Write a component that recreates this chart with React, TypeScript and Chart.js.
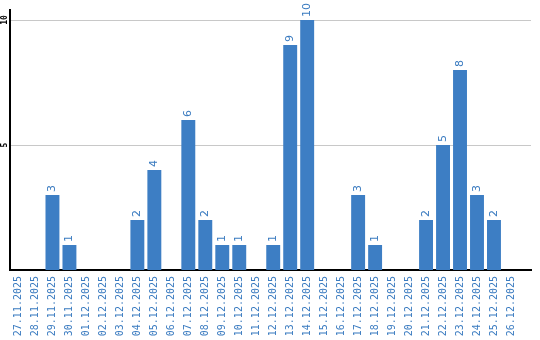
import React, { useEffect, useRef } from "react";
import { Chart, registerables } from "chart.js";

Chart.register(...registerables);

const categories = [
  "27.11.2025", "28.11.2025", "29.11.2025", "30.11.2025", "01.12.2025",
  "02.12.2025", "03.12.2025", "04.12.2025", "05.12.2025", "06.12.2025",
  "07.12.2025", "08.12.2025", "09.12.2025", "10.12.2025", "11.12.2025",
  "12.12.2025", "13.12.2025", "14.12.2025", "15.12.2025", "16.12.2025",
  "17.12.2025", "18.12.2025", "19.12.2025", "20.12.2025", "21.12.2025",
  "22.12.2025", "23.12.2025", "24.12.2025", "25.12.2025", "26.12.2025",
];
const values = [
  0, 0, 3, 1, 0, 0, 0, 2, 4, 0,
  6, 2, 1, 1, 0, 1, 9, 10, 0, 0,
  3, 1, 0, 0, 2, 5, 8, 3, 2, 0,
];
const yTicks = [5, 10];

const BAR_COLOR = "#3d7ec4";
const TEXT_BLUE = "#3a7bc0";

const labelPlugin = {
  id: "customLabels",
  afterDatasetsDraw(chart: any) {
    const ctx = chart.ctx;
    const meta = chart.getDatasetMeta(0);
    ctx.save();
    ctx.fillStyle = TEXT_BLUE;
    ctx.font = "11px 'DejaVu Sans'";
    ctx.textAlign = "left";
    ctx.textBaseline = "middle";
    meta.data.forEach((bar: any, i: number) => {
      const v = values[i];
      if (!v) return;
      ctx.save();
      ctx.translate(bar.x, bar.y - 3);
      ctx.rotate(-Math.PI / 2);
      ctx.fillText(String(v), 0, 0);
      ctx.restore();
    });
    const ys = chart.scales.y;
    ctx.fillStyle = "#000";
    ctx.font = "bold 8px 'DejaVu Sans Mono'";
    ctx.textAlign = "center";
    ctx.textBaseline = "middle";
    ys.ticks.forEach((t: any) => {
      if (!yTicks.includes(t.value)) return;
      const py = ys.getPixelForValue(t.value);
      ctx.save();
      ctx.translate(5, py);
      ctx.rotate(-Math.PI / 2);
      ctx.fillText(String(t.value), 0, 0);
      ctx.restore();
    });
    ctx.restore();
  },
};

export default function App() {
  const ref = useRef<HTMLCanvasElement>(null);
  useEffect(() => {
    document.body.style.margin = "0";
    const chart = new Chart(ref.current!, {
      type: "bar",
      data: {
        labels: categories,
        datasets: [
          {
            data: values,
            backgroundColor: BAR_COLOR,
            barPercentage: 0.82,
            categoryPercentage: 1,
          },
        ],
      },
      options: {
        animation: false,
        responsive: false,
        maintainAspectRatio: false,
        layout: { padding: { top: 10, right: 9, left: 0, bottom: 0 } },
        plugins: { legend: { display: false }, tooltip: { enabled: false } },
        scales: {
          x: {
            grid: { display: false, drawTicks: false },
            border: { color: "#000", width: 2 },
            ticks: {
              color: TEXT_BLUE,
              font: { family: "'DejaVu Sans Mono'", size: 10 },
              minRotation: 90,
              maxRotation: 90,
              autoSkip: false,
              padding: 6,
            },
            afterBuildTicks: (s: any) => {
              s._valueRange = categories.length + 0.68;
            },
            afterFit: (s: any) => {
              s.height = 70;
            },
          },
          y: {
            min: 0,
            max: 10.4,
            afterBuildTicks: (s: any) => {
              s.ticks = yTicks.map((v) => ({ value: v }));
            },
            grid: { color: "#c8c8c8", drawTicks: false },
            border: { color: "#000", width: 2 },
            ticks: { display: false },
            afterFit: (s: any) => {
              s.width = 10;
            },
          },
        },
      },
      plugins: [labelPlugin],
    });
    return () => chart.destroy();
  }, []);
  return <canvas ref={ref} width={540} height={340} />;
}
